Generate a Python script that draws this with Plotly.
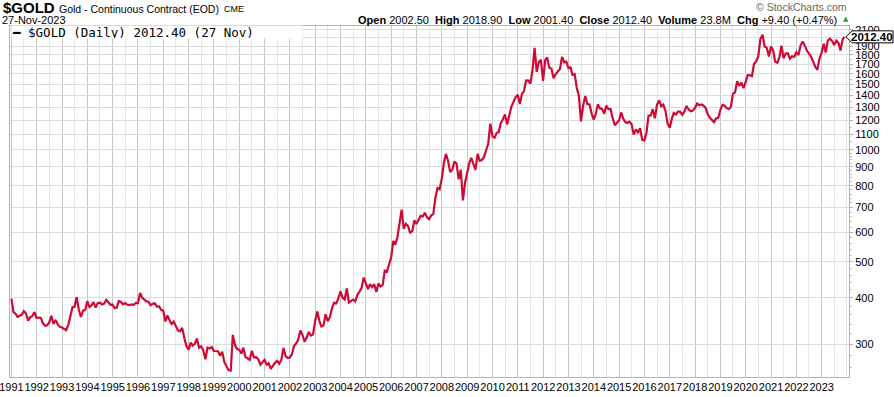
import math
import pandas as pd
import plotly.graph_objects as go

# ---------------- data (approximate monthly levels) ----------------
start_date = "1991-01-02"
start_value = 398.0
last_date = "2023-11-27"

close_1990s = [
    366.0, 362.7, 355.7, 357.8, 360.4, 368.4, 362.9, 347.4, 354.9, 357.5, 366.3, 353.2,
    354.1, 353.1, 341.7, 336.4, 337.5, 343.4, 357.9, 340.0, 349.0, 339.3, 334.2, 332.9,
    330.5, 327.6, 337.8, 354.3, 377.3, 378.5, 401.8, 371.6, 355.5, 369.6, 370.9, 391.8,
    377.9, 381.6, 389.2, 376.5, 387.6, 388.3, 384.0, 385.8, 394.9, 389.1, 383.1, 383.3,
    374.9, 376.4, 392.0, 389.8, 384.3, 387.1, 383.4, 382.4, 384.0, 382.7, 387.8, 387.0,
    412.0, 400.7, 396.4, 391.3, 390.6, 382.0, 385.3, 386.6, 379.0, 379.5, 371.3, 369.3,
    345.5, 358.6, 348.2, 340.2, 345.6, 334.6, 326.4, 325.4, 332.1, 311.4, 296.8, 290.2,
    303.0, 297.4, 301.0, 310.7, 293.6, 296.3, 288.9, 273.4, 293.9, 292.3, 294.7, 287.8,
    287.1, 287.3, 279.5, 286.6, 268.6, 261.0, 255.6, 254.8, 318.0, 299.1, 291.4, 290.3,
]
close_2000s = [
    283.3, 293.7, 276.8, 275.1, 272.3, 288.2, 276.8, 277.0, 273.7, 264.5, 269.1, 272.7,
    264.5, 266.7, 257.7, 263.2, 267.5, 270.6, 265.9, 273.0, 293.1, 278.8, 275.5, 276.5,
    282.3, 296.9, 301.4, 308.2, 326.6, 318.5, 304.7, 312.8, 323.7, 316.9, 319.1, 347.2,
    367.5, 347.5, 334.9, 336.8, 361.4, 346.0, 354.8, 375.6, 388.0, 386.3, 398.4, 416.3,
    399.8, 395.9, 423.7, 388.5, 393.3, 395.8, 391.4, 407.3, 415.7, 425.6, 453.4, 435.6,
    422.2, 435.5, 427.5, 435.7, 414.5, 437.1, 429.0, 433.3, 473.3, 470.8, 495.7, 513.0,
    568.8, 556.0, 582.0, 644.0, 690.0, 613.5, 632.5, 623.5, 599.3, 603.8, 646.7, 632.0,
    650.5, 664.2, 661.8, 677.0, 659.1, 650.5, 665.5, 672.0, 743.0, 789.5, 783.5, 836.5,
    923.3, 975.0, 933.5, 871.0, 885.8, 930.3, 918.0, 833.0, 884.5, 730.8, 814.5, 869.8,
    919.5, 952.0, 916.5, 883.3, 975.5, 934.5, 939.0, 955.5, 995.8, 1040.0, 1175.8, 1087.5,
]
close_2010s = [
    1078.5, 1109.5, 1115.5, 1179.3, 1207.5, 1244.0, 1169.0, 1246.0, 1307.0, 1346.8, 1383.5, 1405.5,
    1327.0, 1411.0, 1439.0, 1535.5, 1536.5, 1505.5, 1628.5, 1880.0, 1620.0, 1722.0, 1746.0, 1531.0,
    1744.0, 1770.0, 1662.5, 1651.3, 1558.0, 1598.5, 1622.0, 1648.5, 1776.0, 1719.0, 1726.0, 1657.5,
    1664.8, 1588.5, 1598.3, 1469.0, 1394.5, 1192.0, 1314.5, 1394.8, 1326.5, 1324.0, 1253.0, 1204.5,
    1251.0, 1326.5, 1291.8, 1288.5, 1250.5, 1315.0, 1285.8, 1285.8, 1216.5, 1164.3, 1182.8, 1199.3,
    1260.3, 1214.0, 1187.0, 1180.3, 1189.8, 1171.0, 1098.4, 1135.0, 1114.0, 1142.4, 1064.0, 1060.0,
    1111.8, 1234.9, 1237.0, 1285.7, 1215.5, 1320.8, 1357.5, 1309.3, 1322.5, 1272.0, 1178.1, 1146.9,
    1212.8, 1255.6, 1244.9, 1266.5, 1266.2, 1242.3, 1267.6, 1311.8, 1283.1, 1270.2, 1274.9, 1296.5,
    1331.3, 1317.9, 1323.9, 1315.3, 1298.5, 1250.5, 1220.6, 1201.5, 1187.3, 1215.0, 1217.6, 1279.0,
    1321.0, 1316.1, 1295.4, 1285.9, 1303.6, 1413.0, 1427.6, 1529.4, 1485.3, 1514.8, 1464.6, 1519.5,
]
close_2020s = [
    1589.2, 1585.7, 1577.0, 1702.8, 1728.7, 1781.8, 1985.9, 2040.0, 1895.5, 1879.9, 1780.9, 1895.1,
    1850.3, 1728.1, 1715.6, 1767.7, 1905.3, 1763.2, 1814.1, 1818.1, 1757.0, 1783.9, 1776.5, 1828.6,
    1797.0, 1900.7, 1954.0, 1911.7, 1848.4, 1817.0, 1781.8, 1726.2, 1672.0, 1640.7, 1759.9, 1826.2,
    1928.2, 1826.9, 1969.0, 1990.0, 1962.7, 1912.3, 1965.1, 1938.2, 1848.6, 1983.9, 2012.4,
]

y_tick_values = [300, 400, 500, 600, 700, 800, 900, 1000, 1100, 1200, 1300, 1400,
                 1500, 1600, 1700, 1800, 1900, 2000, 2100]
year_labels = list(range(1991, 2024))

header_stats = [("Open", "2002.50"), ("High", "2018.90"), ("Low", "2001.40"),
                ("Close", "2012.40"), ("Volume", "23.8M"), ("Chg", "+9.40 (+0.47%)")]

# ---------------- assemble series ----------------
values = [start_value] + close_1990s + close_2000s + close_2010s + close_2020s
n_month_ends = len(values) - 2
month_ends = pd.date_range("1991-01-01", periods=n_month_ends, freq="MS") + pd.offsets.MonthEnd(0)
dates = [start_date] + [d.strftime("%Y-%m-%d") for d in month_ends] + [last_date]
last_value = values[-1]

# ---------------- layout geometry ----------------
W, H = 894, 397
L, R, T, B = 10, 45, 26, 20
PW, PH = W - L - R, H - T - B
y_lo, y_hi = 245, 2152


def px(x):
    return (x - L) / PW


def py(y):
    return (H - B - y) / PH


def py_val(v):
    return (math.log10(v) - math.log10(y_lo)) / (math.log10(y_hi) - math.log10(y_lo))


FONT = "Liberation Sans, Arial, sans-serif"

fig = go.Figure()
fig.add_trace(go.Scatter(
    x=dates, y=values, mode="lines",
    line=dict(color="#cf0a34", width=2.2),
    hoverinfo="x+y", showlegend=False,
))

minor_y = [v for v in range(260, 1000, 20) if v % 100 != 0] + \
          [v for v in range(1050, 2150, 50) if v % 100 != 0]

fig.update_layout(
    width=W, height=H,
    margin=dict(l=L, r=R, t=T, b=B, pad=0, autoexpand=False),
    paper_bgcolor="white", plot_bgcolor="white",
    font=dict(family=FONT, size=11, color="black"),
    showlegend=False,
    xaxis=dict(
        type="date",
        automargin=False,
        range=["1990-12-12", "2024-01-30"],
        tickmode="array",
        tickvals=[f"{y}-01-01" for y in year_labels],
        ticktext=[str(y) for y in year_labels],
        tickangle=0,
        ticklabeloverflow="allow",
        tickfont=dict(family=FONT, size=11, color="black"),
        showgrid=True, gridcolor="#c6c6c6", gridwidth=1,
        minor=dict(dtick="M6", tick0="1991-01-01", showgrid=True, gridcolor="#e6e6e6", gridwidth=1),
        showline=True, linecolor="#b4b4b4", linewidth=1, mirror=True,
        ticks="", zeroline=False, fixedrange=True,
    ),
    yaxis=dict(
        type="log",
        side="right",
        automargin=False,
        range=[math.log10(y_lo), math.log10(y_hi)],
        tickmode="array",
        tickvals=y_tick_values,
        ticktext=[str(v) for v in y_tick_values],
        ticklabeloverflow="allow",
        tickfont=dict(family=FONT, size=11, color="black"),
        showgrid=True, gridcolor="#dcdcdc", gridwidth=1,
        showline=True, linecolor="#b4b4b4", linewidth=1, mirror=True,
        ticks="outside", ticklen=3, tickcolor="#b0b0b0",
        minor=dict(tickmode="array", tickvals=minor_y, ticks="outside", ticklen=2,
                   tickcolor="#c0c0c0", showgrid=False),
        zeroline=False, fixedrange=True,
    ),
)

ann = []
# title row
ann.append(dict(xref="paper", yref="paper", x=px(1), y=py(7.5), xanchor="left", yanchor="middle",
                text="<b>$GOLD</b>", showarrow=False, font=dict(family=FONT, size=15, color="black")))
ann.append(dict(xref="paper", yref="paper", x=px(57), y=py(8.5), xanchor="left", yanchor="middle",
                text="Gold - Continuous Contract (EOD)", showarrow=False,
                font=dict(family=FONT, size=10.5, color="black")))
ann.append(dict(xref="paper", yref="paper", x=px(222), y=py(9), xanchor="left", yanchor="middle",
                text="CME", showarrow=False, font=dict(family=FONT, size=9, color="black")))
ann.append(dict(xref="paper", yref="paper", x=px(0), y=py(20.5), xanchor="left", yanchor="middle",
                text="27-Nov-2023", showarrow=False, font=dict(family=FONT, size=11, color="black")))
# copyright
ann.append(dict(xref="paper", yref="paper", x=px(849), y=py(7), xanchor="right", yanchor="middle",
                text="© StockCharts.com", showarrow=False, font=dict(family=FONT, size=10.5, color="#666666")))
# stats row
stats_text = "  ".join(f"<b>{k}</b> {v}" for k, v in header_stats)
ann.append(dict(xref="paper", yref="paper", x=px(839), y=py(20), xanchor="right", yanchor="middle",
                text=stats_text, showarrow=False, font=dict(family=FONT, size=11, color="black")))
ann.append(dict(xref="paper", yref="paper", x=px(846), y=py(19.5), xanchor="center", yanchor="middle",
                text="▲", showarrow=False, font=dict(family="DejaVu Sans", size=7, color="#3a9a3a")))
# legend row
ann.append(dict(xref="paper", yref="paper", x=px(11), y=py(31.5), xanchor="left", yanchor="middle",
                text="━ $GOLD (Daily) 2012.40 (27 Nov)", showarrow=False, align="left",
                width=290, height=12, bgcolor="white", borderpad=0,
                font=dict(family="DejaVu Sans Mono", size=12.5, color="black")))
# last price label
ann.append(dict(xref="paper", yref="paper", x=px(871.5), y=py_val(last_value), xanchor="center",
                yanchor="middle", text="<b>2012.40</b>", showarrow=False,
                font=dict(family=FONT, size=11.5, color="black")))

fig.update_layout(annotations=ann)

fig.add_shape(
    type="path", xref="paper", yref="paper",
    xsizemode="pixel", ysizemode="pixel",
    xanchor=1.0, yanchor=py_val(last_value),
    path="M -3 0 L 3 -6 L 44 -6 L 44 6 L 3 6 Z",
    line=dict(color="black", width=1), fillcolor="white", layer="above",
)

fig.write_html("out.html",
               config={"displayModeBar": False},
               post_script="document.body.style.margin='0px';document.body.style.padding='0px';")
